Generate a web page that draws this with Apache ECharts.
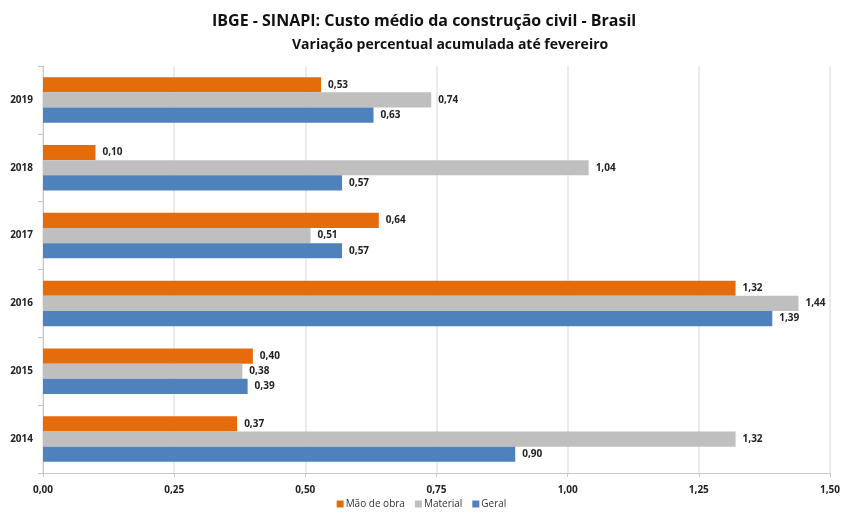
<!DOCTYPE html>
<html>
<head>
<meta charset="utf-8">
<script src="https://cdn.jsdelivr.net/npm/echarts@6/dist/echarts.min.js"></script>
<style>
  html, body { margin: 0; padding: 0; background: #fff; }
  #chart { width: 843px; height: 517px; }
</style>
</head>
<body>
<div id="chart"></div>
<script>
const years = ['2014', '2015', '2016', '2017', '2018', '2019'];
const maoDeObra = [0.37, 0.40, 1.32, 0.64, 0.10, 0.53];
const material = [1.32, 0.38, 1.44, 0.51, 1.04, 0.74];
const geral = [0.90, 0.39, 1.39, 0.57, 0.57, 0.63];

const font = "'Liberation Sans Narrow', 'Open Sans', sans-serif";
const fmt = v => v.toFixed(2).replace('.', ',');

const labelStyle = {
  show: true,
  position: 'right',
  distance: 7,
  color: '#222',
  fontWeight: 'bold',
  fontSize: 10,
  fontFamily: font,
  formatter: p => fmt(p.value)
};

function makeSeries(name, data, color) {
  return {
    name: name,
    type: 'bar',
    data: data,
    barGap: '0%',
    barCategoryGap: '33%',
    itemStyle: { color: color },
    label: labelStyle
  };
}

const chart = echarts.init(document.getElementById('chart'));
chart.setOption({
  animation: false,
  title: [
    {
      text: 'IBGE - SINAPI: Custo médio da construção civil - Brasil',
      left: 207,
      top: 8,
      textStyle: { fontFamily: "'Open Sans', sans-serif", fontSize: 16, fontWeight: 'bold', color: '#111' }
    },
    {
      text: 'Variação percentual acumulada até fevereiro',
      left: 287,
      top: 33,
      textStyle: { fontFamily: "'Open Sans', sans-serif", fontSize: 14, fontWeight: 'bold', color: '#111' }
    }
  ],
  legend: {
    bottom: 3,
    left: 'center',
    itemWidth: 7,
    itemHeight: 7,
    itemGap: 10,
    icon: 'rect',
    data: ['Mão de obra', 'Material', 'Geral'],
    textStyle: { fontFamily: font, fontSize: 10, color: '#333', padding: [0, 0, 0, -3] }
  },
  grid: { left: 43, right: 12, top: 66, bottom: 44 },
  xAxis: {
    type: 'value',
    min: 0,
    max: 1.5,
    interval: 0.25,
    axisLine: { show: true, lineStyle: { color: '#c8c8c8' } },
    axisTick: { show: true, length: 4, lineStyle: { color: '#c8c8c8' } },
    splitLine: { lineStyle: { color: '#e4e4e4', width: 1.5 } },
    axisLabel: {
      margin: 12,
      fontFamily: font,
      fontSize: 10,
      fontWeight: 'bold',
      color: '#222',
      formatter: v => fmt(v)
    }
  },
  yAxis: {
    type: 'category',
    data: years,
    axisLine: { show: true, lineStyle: { color: '#c8c8c8' } },
    axisTick: { show: true, length: 5, lineStyle: { color: '#c8c8c8' } },
    axisLabel: {
      margin: 10,
      fontFamily: font,
      fontSize: 10,
      fontWeight: 'bold',
      color: '#222'
    }
  },
  series: [
    makeSeries('Mão de obra', maoDeObra, '#e46c0a'),
    makeSeries('Material', material, '#bfbfbf'),
    makeSeries('Geral', geral, '#4f81bd')
  ]
});
</script>
</body>
</html>
